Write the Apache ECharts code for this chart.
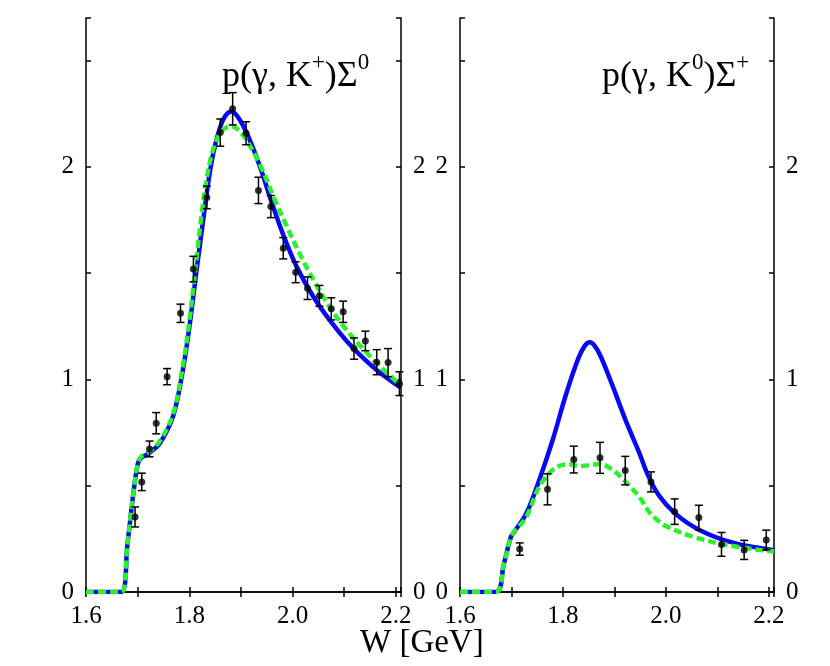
<!DOCTYPE html>
<html>
<head>
<meta charset="utf-8">
<script src="https://cdn.jsdelivr.net/npm/echarts@6/dist/echarts.min.js"></script>
<style>html,body{margin:0;padding:0;background:#fff;}#main{width:830px;height:666px;}</style>
</head>
<body>
<div id="main"></div>
<script>
// ---- data (W [GeV], value, error) ----
const dataKpSigma0 = [
  [1.695,0.353,0.047],[1.708,0.518,0.041],[1.723,0.673,0.037],[1.736,0.794,0.050],
  [1.757,1.013,0.038],[1.783,1.311,0.043],[1.808,1.519,0.060],[1.834,1.856,0.053],
  [1.860,2.161,0.064],[1.884,2.273,0.076],[1.910,2.158,0.054],[1.934,1.889,0.062],
  [1.958,1.813,0.052],[1.982,1.617,0.050],[2.006,1.504,0.049],[2.029,1.429,0.053],
  [2.052,1.393,0.049],[2.075,1.332,0.052],[2.098,1.318,0.050],[2.119,1.145,0.050],
  [2.141,1.181,0.046],[2.163,1.081,0.059],[2.185,1.079,0.066],[2.207,0.980,0.056]
];
const dataK0SigmaP = [
  [1.716,0.202,0.029],[1.770,0.483,0.073],[1.821,0.623,0.063],[1.872,0.631,0.073],
  [1.921,0.571,0.067],[1.971,0.518,0.047],[2.017,0.378,0.060],[2.064,0.350,0.058],
  [2.108,0.224,0.056],[2.152,0.198,0.045],[2.195,0.245,0.046]
];
const blueLeft = [
  [1.60,0],[1.668,0],[1.680,0.22],[1.692,0.47],[1.700,0.60],[1.706,0.63],[1.720,0.65],
  [1.743,0.70],[1.769,0.83],[1.788,1.05],[1.801,1.26],[1.815,1.53],[1.827,1.75],
  [1.837,1.93],[1.847,2.07],[1.859,2.18],[1.870,2.24],[1.882,2.26],[1.898,2.22],
  [1.917,2.127],[1.937,2.00],[1.960,1.83],[1.982,1.68],[2.008,1.53],[2.040,1.39],
  [2.073,1.275],[2.105,1.18],[2.135,1.105],[2.170,1.03],[2.21,0.96]
];
const greenLeft = [
  [1.60,0],[1.668,0],[1.680,0.22],[1.692,0.47],[1.700,0.60],[1.706,0.635],[1.720,0.655],
  [1.743,0.71],[1.769,0.84],[1.788,1.07],[1.801,1.29],[1.814,1.57],[1.824,1.78],
  [1.834,1.95],[1.846,2.08],[1.860,2.16],[1.872,2.185],[1.884,2.19],[1.898,2.165],
  [1.911,2.125],[1.937,2.01],[1.963,1.86],[1.989,1.719],[2.015,1.585],[2.047,1.44],
  [2.079,1.315],[2.112,1.21],[2.140,1.135],[2.170,1.06],[2.21,0.97]
];
const blueRight = [
  [1.60,0],[1.670,0],[1.685,0.13],[1.699,0.26],[1.706,0.285],[1.729,0.37],[1.754,0.527],
  [1.780,0.715],[1.806,0.93],[1.830,1.10],[1.843,1.16],[1.852,1.175],[1.861,1.16],
  [1.873,1.11],[1.897,0.966],[1.923,0.80],[1.949,0.65],[1.965,0.55],[1.987,0.452],
  [2.020,0.365],[2.065,0.292],[2.130,0.232],[2.21,0.197]
];
const greenRight = [
  [1.60,0],[1.670,0],[1.685,0.13],[1.699,0.26],[1.706,0.285],[1.729,0.354],[1.754,0.496],
  [1.780,0.574],[1.800,0.598],[1.815,0.60],[1.832,0.592],[1.850,0.596],[1.871,0.602],
  [1.897,0.574],[1.929,0.50],[1.949,0.445],[1.968,0.375],[1.985,0.335],[2.000,0.31],
  [2.052,0.26],[2.130,0.216],[2.21,0.19]
];
const titleLeft = '{n|p(γ, K}{s|+}{n|)Σ}{s|0}';
const titleRight = '{n|p(γ, K}{s|0}{n|)Σ}{s|+}';
const xAxisName = 'W [GeV]';

// ---- chart ----
const FONT = 'Liberation Serif';
const chart = echarts.init(document.getElementById('main'));
const axLine = {show:true, lineStyle:{color:'#000', width:1.5}};
const tick = {show:true, inside:true, length:5, lineStyle:{color:'#000', width:1.5}};
function xFmt(v){ const k=Math.round(v*10); if(Math.abs(v*10-k)>1e-6) return ''; return k%2===0?(k/10).toFixed(1):''; }
function yFmt(v){ const k=Math.round(v); return Math.abs(v-k)<1e-6?String(k):''; }
function xAx(grid, pos, labels){
  return {type:'value', gridIndex:grid, position:pos, min:1.6, max:2.21, interval:0.1,
    axisLine:axLine, axisTick:tick, splitLine:{show:false},
    axisLabel:{show:labels, formatter:xFmt, fontFamily:FONT, fontSize:25, color:'#000', margin:12}};
}
function yAx(grid, pos){
  return {type:'value', gridIndex:grid, position:pos, min:0, max:2.7, interval:0.5,
    axisLine:axLine, axisTick:tick, splitLine:{show:false},
    axisLabel:{show:true, formatter:yFmt, fontFamily:FONT, fontSize:25, color:'#000', margin:12}};
}
function errSeries(data, xi, yi){
  return {type:'custom', xAxisIndex:xi, yAxisIndex:yi, z:5, data:data,
    renderItem:function(params, api){
      const x=api.value(0), y=api.value(1), e=api.value(2);
      const lo=api.coord([x,y-e]), hi=api.coord([x,y+e]);
      const st={stroke:'#000', lineWidth:1.5};
      return {type:'group', children:[
        {type:'line', shape:{x1:lo[0],y1:lo[1],x2:hi[0],y2:hi[1]}, style:st},
        {type:'line', shape:{x1:lo[0]-4,y1:lo[1],x2:lo[0]+4,y2:lo[1]}, style:st},
        {type:'line', shape:{x1:hi[0]-4,y1:hi[1],x2:hi[0]+4,y2:hi[1]}, style:st}
      ]};
    }};
}
function pts(data, xi, yi){
  return {type:'scatter', xAxisIndex:xi, yAxisIndex:yi, z:6, symbolSize:7,
    itemStyle:{color:'#000'}, data:data.map(d=>[d[0],d[1]])};
}
function curve(data, xi, yi, color, dashed){
  return {type:'line', xAxisIndex:xi, yAxisIndex:yi, data:data, showSymbol:false,
    smooth:0.35, z: dashed?4:3,
    lineStyle:{color:color, width:4.5, type: dashed?[8,4]:'solid'}};
}
const rich = {n:{fontFamily:FONT, fontSize:36, color:'#000', lineHeight:44, verticalAlign:'bottom'},
              s:{fontFamily:FONT, fontSize:23, color:'#000', lineHeight:23, verticalAlign:'top'}};
chart.setOption({
  animation:false,
  backgroundColor:'#fff',
  grid:[{left:86, top:18, width:315, height:574},{left:460, top:18, width:314, height:574}],
  xAxis:[xAx(0,'bottom',true), xAx(0,'top',false), xAx(1,'bottom',true), xAx(1,'top',false)],
  yAxis:[yAx(0,'left'), yAx(0,'right'), yAx(1,'left'), yAx(1,'right')],
  graphic:[
    {type:'text', left:222, top:51, style:{text:titleLeft, rich:rich}},
    {type:'text', left:602, top:51, style:{text:titleRight, rich:rich}},
    {type:'text', left:360, top:627, style:{text:xAxisName, fontFamily:FONT, fontSize:33, fill:'#000'}}
  ],
  series:[
    curve(blueLeft,0,0,'#0808f4',false),
    curve(greenLeft,0,0,'#2cf02c',true),
    errSeries(dataKpSigma0,0,0), pts(dataKpSigma0,0,0),
    curve(blueRight,2,2,'#0808f4',false),
    curve(greenRight,2,2,'#2cf02c',true),
    errSeries(dataK0SigmaP,2,2), pts(dataK0SigmaP,2,2)
  ]
});
</script>
</body>
</html>
